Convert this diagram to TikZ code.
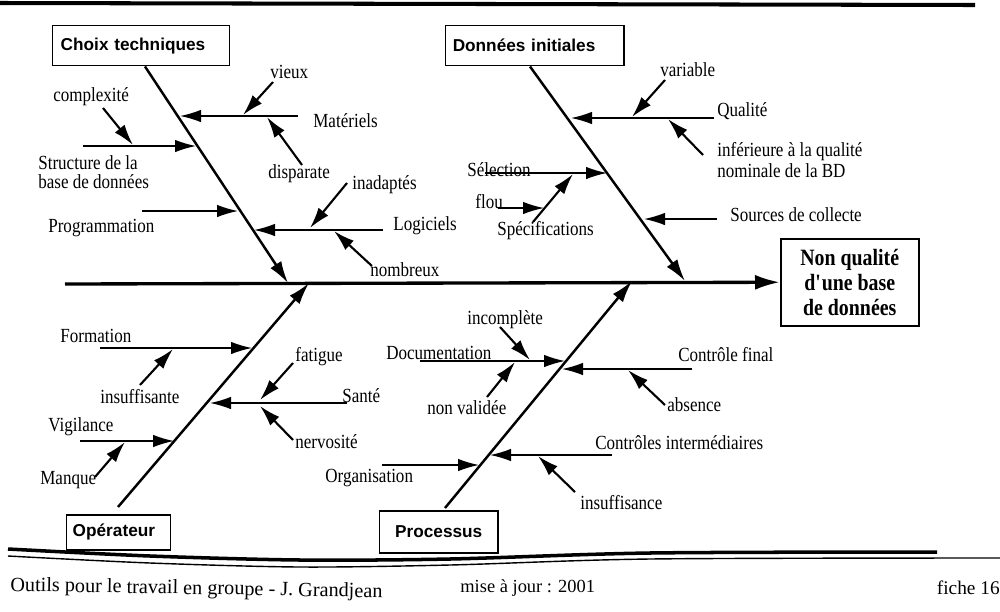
\documentclass[tikz,border=0pt]{standalone}
\usepackage{fontspec}
\setmainfont{Liberation Serif}[FakeStretch=0.85]
\newfontfamily\footfont{Liberation Serif}
\newfontfamily\boxfont{Liberation Sans}
\usetikzlibrary{arrows.meta,calc}
\begin{document}
\begin{tikzpicture}[x=0.2mm,y=-0.2mm,
  lbl/.style={inner sep=0pt,anchor=west,font=\fontsize{11.4}{11.6}\selectfont},
  catbox/.style={draw,line width=0.85pt,font=\boxfont\bfseries\fontsize{9.8}{11}\selectfont,anchor=north west,inner ysep=0pt},
  bone/.style={line width=1.4pt,-{Latex[length=4.4mm,width=2.6mm]}},
  branch/.style={line width=0.8pt,-{Latex[length=4.2mm,width=2.5mm]}},
  sub/.style={line width=1.2pt,-{Latex[length=4.2mm,width=2.5mm]}},
  spine/.style={line width=1.9pt,-{Latex[length=5mm,width=3mm]}},
]
\useasboundingbox (0,0) rectangle (1000,611);
\fill[white] (0,0) rectangle (1000,611);

% top rule
\coordinate (tl0) at (0,3);
\coordinate (tl1) at (975,5);
\draw[line width=2.3pt] (tl0) -- (tl1);

% boxes
\node[catbox,text width=32.2mm,inner xsep=1.6mm,minimum height=8mm,align=left] (ct) at (52,25) {Choix techniques};
\node[catbox,text width=32.8mm,inner xsep=1.4mm,minimum height=8mm,align=left] (di) at (445,25) {Données initiales};
\node[catbox,text width=18.4mm,inner xsep=1.2mm,minimum height=7mm,align=left] (op) at (66,514) {Opérateur};
\node[catbox,text width=21.6mm,inner xsep=1mm,minimum height=8.4mm,align=center] (pr) at (379,510) {Processus};
\node[draw,line width=0.85pt,anchor=north west,minimum width=27.6mm,minimum height=17.4mm,align=center,inner sep=0pt,font=\bfseries\fontsize{13.3}{14.2}\selectfont] (nq) at (780,238) {Non qualité\\d\textquotesingle une base\\de données};

% spine
\coordinate (s0) at (65,284);
\draw[spine] (s0) -- (nq.west);

% bones
\coordinate (ctT) at (288,283);
\coordinate (diT) at (685,281);
\coordinate (opT) at (309,283);
\coordinate (prT) at (632,281);
\draw[bone] ($(ct.south west)+(93,0)$) -- (ctT);
\draw[bone] ($(di.south west)+(85,0)$) -- (diT);
\draw[bone] ($(op.north west)+(52,-7)$) -- (opT);
\draw[bone] ($(pr.north west)+(66,-2)$) -- (prT);

% labels
\node[lbl] (vieux) at (270,72) {vieux};
\node[lbl] (mat) at (313,121) {Matériels};
\node[lbl] (disp) at (268,174) {disparate};
\node[lbl] (cplx) at (53,97) {complexité};
\node[lbl,align=left,font=\fontsize{11.4}{10.8}\selectfont] (struct) at (38,172) {Structure de la\\base de données};
\node[lbl] (prog) at (48,228) {Programmation};
\node[lbl] (inad) at (352,185) {inadaptés};
\node[lbl] (logi) at (393,226) {Logiciels};
\node[lbl] (nomb) at (370,270) {nombreux};
\node[lbl] (var) at (660,70) {variable};
\node[lbl] (qual) at (717,111) {Qualité};
\node[lbl,align=left] (inf) at (717,160) {inférieure à la qualité\\nominale de la BD};
\node[lbl] (sel) at (467,170) {Sélection};
\node[lbl] (flou) at (475,202) {flou};
\node[lbl] (spec) at (497,231) {Spécifications};
\node[lbl] (src) at (730,215) {Sources de collecte};
\node[lbl] (form) at (60,336) {Formation};
\node[lbl] (insf) at (100,397) {insuffisante};
\node[lbl] (fat) at (295,357) {fatigue};
\node[lbl] (sante) at (342,396) {Santé};
\node[lbl] (nerv) at (295,442) {nervosité};
\node[lbl] (vig) at (48,427) {Vigilance};
\node[lbl] (manq) at (40,480) {Manque};
\node[lbl] (incp) at (467,320) {incomplète};
\node[lbl] (doc) at (386,353) {Documentation};
\node[lbl] (nval) at (427,408) {non validée};
\node[lbl] (cfin) at (678,355) {Contrôle final};
\node[lbl] (abs) at (667,405) {absence};
\node[lbl] (cint) at (595,443) {Contrôles intermédiaires};
\node[lbl] (insc) at (580,503) {insuffisance};
\node[lbl] (org) at (325,478) {Organisation};

% Choix techniques branches
\coordinate (mat0) at (298,116); \coordinate (matT) at (180,116);
\coordinate (vx0) at (273,82);   \coordinate (vx1) at (243,115);
\coordinate (dp0) at (302,165);  \coordinate (dp1) at (267,117);
\coordinate (st0) at (83,146);   \coordinate (stT) at (196,146);
\coordinate (cx0) at (103,108);  \coordinate (cx1) at (133,145);
\coordinate (pg0) at (142,211);  \coordinate (pgT) at (238,211);
\coordinate (lg0) at (383,230);  \coordinate (lgT) at (254,230);
\coordinate (in0) at (347,183);  \coordinate (in1) at (310,228);
\coordinate (nb0) at (372,266);  \coordinate (nb1) at (334,231);
\draw[branch] (mat0) -- (matT);
\draw[sub] (vx0) -- (vx1);
\draw[sub] (dp0) -- (dp1);
\draw[branch] (st0) -- (stT);
\draw[sub] (cx0) -- (cx1);
\draw[branch] (pg0) -- (pgT);
\draw[branch] (lg0) -- (lgT);
\draw[sub] (in0) -- (in1);
\draw[sub] (nb0) -- (nb1);

% Donnees initiales branches
\coordinate (ql0) at (714,118); \coordinate (qlT) at (571,118);
\coordinate (va0) at (665,80);  \coordinate (va1) at (632,117);
\coordinate (if0) at (703,155); \coordinate (if1) at (668,119);
\coordinate (se0) at (485,173); \coordinate (seT) at (607,173);
\coordinate (sp0) at (533,222); \coordinate (sp1) at (573,174);
\coordinate (fl0) at (498,208); \coordinate (fl1) at (544,208);
\coordinate (sc0) at (717,219); \coordinate (scT) at (644,219);
\draw[branch] (ql0) -- (qlT);
\draw[sub] (va0) -- (va1);
\draw[sub] (if0) -- (if1);
\draw[branch] (se0) -- (seT);
\draw[sub] (sp0) -- (sp1);
\draw[branch] (fl0) -- (fl1);
\draw[branch] (sc0) -- (scT);

% Operateur branches
\coordinate (fo0) at (100,348); \coordinate (foT) at (252,348);
\coordinate (is0) at (140,385); \coordinate (is1) at (173,349);
\coordinate (sa0) at (347,403); \coordinate (saT) at (210,403);
\coordinate (fa0) at (293,363); \coordinate (fa1) at (260,400);
\coordinate (ne0) at (293,440); \coordinate (ne1) at (260,406);
\coordinate (vg0) at (80,441);  \coordinate (vgT) at (174,441);
\coordinate (mq0) at (95,477);  \coordinate (mq1) at (125,442);
\draw[branch] (fo0) -- (foT);
\draw[sub] (is0) -- (is1);
\draw[branch] (sa0) -- (saT);
\draw[sub] (fa0) -- (fa1);
\draw[sub] (ne0) -- (ne1);
\draw[branch] (vg0) -- (vgT);
\draw[sub] (mq0) -- (mq1);

% Processus branches
\coordinate (dc0) at (420,361); \coordinate (dcT) at (565,361);
\coordinate (ic0) at (500,327); \coordinate (ic1) at (530,360);
\coordinate (nv0) at (487,397); \coordinate (nv1) at (515,362);
\coordinate (cf0) at (692,369); \coordinate (cfT) at (562,369);
\coordinate (ab0) at (665,405); \coordinate (ab1) at (628,370);
\coordinate (ci0) at (612,455); \coordinate (ciT) at (490,455);
\coordinate (ik0) at (575,492); \coordinate (ik1) at (538,456);
\coordinate (or0) at (382,465); \coordinate (orT) at (479,465);
\draw[branch] (dc0) -- (dcT);
\draw[sub] (ic0) -- (ic1);
\draw[sub] (nv0) -- (nv1);
\draw[branch] (cf0) -- (cfT);
\draw[sub] (ab0) -- (ab1);
\draw[branch] (ci0) -- (ciT);
\draw[sub] (ik0) -- (ik1);
\draw[branch] (or0) -- (orT);

% footer rules
\draw[line width=2pt] plot[smooth] coordinates {(8,549) (150,556) (300,560) (450,559) (650,553) (937,552)};
\draw[line width=0.8pt] plot[smooth] coordinates {(8,556) (150,563) (300,567) (450,565) (650,559) (1000,558)};

% footer text
\node[anchor=base west,inner sep=0pt,font=\footfont\fontsize{11.5}{12}\selectfont,rotate=-1] (ft1) at (10,591) {Outils pour le travail en groupe - J. Grandjean};
\node[anchor=base west,inner sep=0pt,font=\footfont\fontsize{10.5}{12}\selectfont] (ft2) at (460,592) {mise à jour : 2001};
\node[anchor=base east,inner sep=0pt,font=\footfont\fontsize{11}{12}\selectfont] (ft3) at (1000,594) {fiche 16};
\end{tikzpicture}
\end{document}
